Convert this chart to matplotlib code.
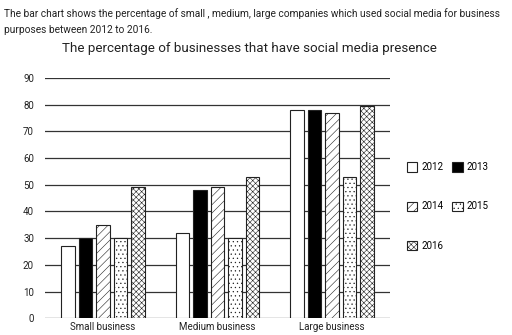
import matplotlib.pyplot as plt
import numpy as np
from matplotlib.patches import Patch

plt.rcParams['font.family'] = ['Roboto', 'DejaVu Sans']
plt.rcParams['hatch.linewidth'] = 0.4
plt.rcParams['hatch.color'] = '#666666'

categories = ['Small business', 'Medium business', 'Large business']
years = ['2012', '2013', '2014', '2015', '2016']
values = {
    '2012': [27, 32, 78],
    '2013': [30, 48, 78],
    '2014': [35, 49, 77],
    '2015': [30, 30, 53],
    '2016': [49, 53, 79.5],
}
y_ticks = [0, 10, 20, 30, 40, 50, 60, 70, 80, 90]

styles = {
    '2012': dict(facecolor='white', hatch=None),
    '2013': dict(facecolor='black', hatch=None),
    '2014': dict(facecolor='white', hatch='////'),
    '2015': dict(facecolor='white', hatch='....'),
    '2016': dict(facecolor='white', hatch='xxxxxx'),
}

fig = plt.figure(figsize=(5.12, 3.35), dpi=100)
ax = fig.add_axes([0.088, 0.05, 0.674, 0.717])

x = np.arange(len(categories))
step = 0.153
width = 0.118
for i, yr in enumerate(years):
    offs = (i - 2) * step
    ax.bar(x + offs, values[yr], width, edgecolor='#222222', linewidth=0.8,
           zorder=3, **styles[yr])

ax.set_xlim(-0.507, 2.507)
ax.set_ylim(0, 90)
ax.set_yticks(y_ticks)
ax.set_xticks(x)
ax.set_xticklabels(categories, fontsize=7, color='#222222')
ax.tick_params(axis='y', labelsize=7, colors='#222222', length=0, pad=8)
ax.tick_params(axis='x', length=0, pad=3)
for s in ax.spines.values():
    s.set_visible(False)
ax.grid(axis='y', color='#333333', linewidth=0.9, zorder=0)
ax.set_axisbelow(True)

fig.text(0.008, 0.975, 'The bar chart shows the percentage of small , medium, large companies which used social media for business',
         fontsize=7.32, va='top', ha='left', color='#222222')
fig.text(0.008, 0.925, 'purposes between 2012 to 2016.',
         fontsize=7.32, va='top', ha='left', color='#222222')
fig.text(0.488, 0.855, 'The percentage of businesses that have social media presence',
         fontsize=9.6, va='center', ha='center', color='#222222')

handles = [Patch(edgecolor='#222222', linewidth=0.8, label=yr, **styles[yr]) for yr in years]
order = [0, 2, 4, 1, 3]
fig.legend([handles[k] for k in order], [years[k] for k in order],
           ncol=2, frameon=False, fontsize=7,
           loc='upper left', bbox_to_anchor=(0.785, 0.53),
           labelspacing=3.0, columnspacing=0.9, handlelength=1.1,
           handleheight=1.1, handletextpad=0.4, borderpad=0)

fig.savefig('out.png', dpi=100)
